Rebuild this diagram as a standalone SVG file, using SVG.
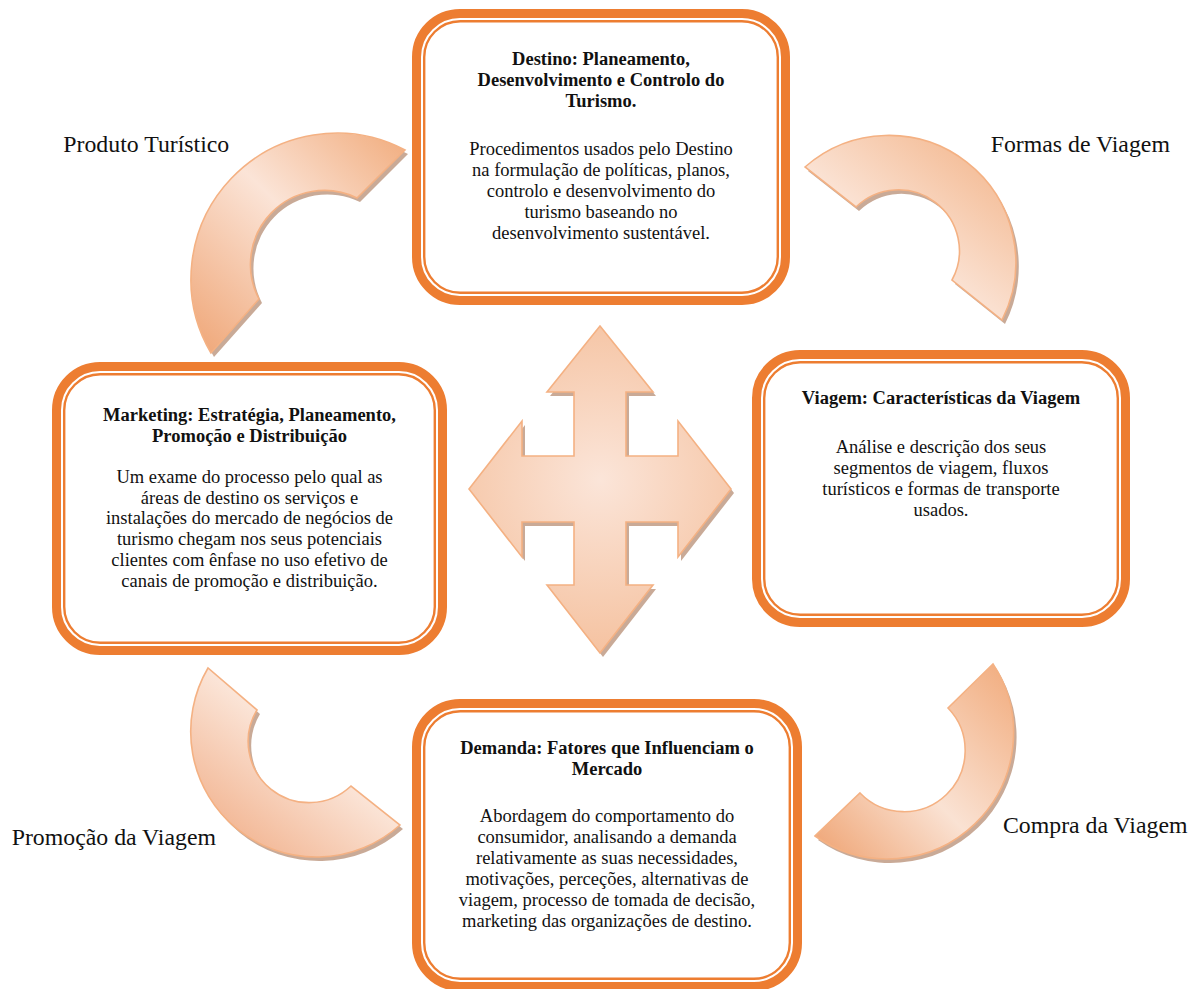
<svg xmlns="http://www.w3.org/2000/svg" width="1198" height="989" viewBox="0 0 1198 989">
<style>
.bg{fill:#ffffff}
.band{fill:none;stroke:#ed7d31;stroke-width:9}
.thin{fill:none;stroke:#ed7d31;stroke-width:2.4}
.fillw{fill:#ffffff}
.arc{stroke:#f4b183;stroke-width:1.6;stroke-linejoin:miter}
.shadow{fill:#bf9b85;opacity:0.85}
.t{font-family:"Liberation Serif","Times New Roman",serif;font-size:18.5px;fill:#111111;text-anchor:middle}
.b{font-weight:bold}
.lbl{font-family:"Liberation Serif","Times New Roman",serif;font-size:23.8px;fill:#111111}
</style>
<defs>
<linearGradient id="gTL" gradientUnits="userSpaceOnUse" x1="211" y1="353" x2="405" y2="150">
<stop offset="0" stop-color="#f0aa7d"/><stop offset="0.55" stop-color="#fbe4d7"/><stop offset="1" stop-color="#f2b185"/>
</linearGradient>
<linearGradient id="gTR" gradientUnits="userSpaceOnUse" x1="975" y1="150" x2="895" y2="250">
<stop offset="0" stop-color="#f4bc96"/><stop offset="1" stop-color="#fbe5d8"/>
</linearGradient>
<linearGradient id="gBR" gradientUnits="userSpaceOnUse" x1="993" y1="664" x2="815" y2="836">
<stop offset="0" stop-color="#f2b084"/><stop offset="0.55" stop-color="#fae2d3"/><stop offset="1" stop-color="#f0aa7d"/>
</linearGradient>
<linearGradient id="gBL" gradientUnits="userSpaceOnUse" x1="230" y1="840" x2="304" y2="746">
<stop offset="0" stop-color="#f2b592"/><stop offset="1" stop-color="#fbe5d8"/>
</linearGradient>
<radialGradient id="gX" gradientUnits="userSpaceOnUse" cx="600" cy="480" r="175">
<stop offset="0" stop-color="#fbe5d9"/><stop offset="1" stop-color="#f5c2a0"/>
</radialGradient>
</defs>
<rect class="bg" x="0" y="0" width="1198" height="989"/>

<g id="connectors">
  <g id="arc-produto">
    <path class="shadow" transform="translate(3,4)" d="M405,150 A146,146 0 0 0 211,353 L259,299 A74,74 0 0 1 357,198 Z"/>
    <path class="arc" fill="url(#gTL)" d="M405,150 A146,146 0 0 0 211,353 L259,299 A74,74 0 0 1 357,198 Z"/>
  </g>
  <g id="arc-formas">
    <path class="shadow" transform="translate(3,4)" d="M805,167 A127,127 0 0 1 1002,320 L952,280 A61,61 0 0 0 856,207 Z"/>
    <path class="arc" fill="url(#gTR)" d="M805,167 A127,127 0 0 1 1002,320 L952,280 A61,61 0 0 0 856,207 Z"/>
  </g>
  <g id="arc-compra">
    <path class="shadow" transform="translate(3,4)" d="M993,664 A126,126 0 0 1 815,836 L860,793 A61,61 0 0 0 948,708 Z"/>
    <path class="arc" fill="url(#gBR)" d="M993,664 A126,126 0 0 1 815,836 L860,793 A61,61 0 0 0 948,708 Z"/>
  </g>
  <g id="arc-promocao">
    <path class="shadow" transform="translate(3,4)" d="M208,668 A125.5,125.5 0 0 0 400,825 L351,786 A61,61 0 0 1 257,710 Z"/>
    <path class="arc" fill="url(#gBL)" d="M208,668 A125.5,125.5 0 0 0 400,825 L351,786 A61,61 0 0 1 257,710 Z"/>
  </g>
  <g id="center-arrow">
    <path class="shadow" transform="translate(3,4)" d="M600,326 L653,392 L626,392 L626,456 L678,456 L678,421 L731,489 L678,557 L678,522 L626,522 L626,585 L653,585 L600,653 L547,585 L574,585 L574,522 L522,522 L522,557 L469,489 L522,421 L522,456 L574,456 L574,392 L547,392 Z"/>
    <path class="arc" fill="url(#gX)" d="M600,326 L653,392 L626,392 L626,456 L678,456 L678,421 L731,489 L678,557 L678,522 L626,522 L626,585 L653,585 L600,653 L547,585 L574,585 L574,522 L522,522 L522,557 L469,489 L522,421 L522,456 L574,456 L574,392 L547,392 Z"/>
  </g>
</g>

<g id="node-destino">
  <rect class="fillw" x="412" y="9" width="378" height="296" rx="48"/>
  <rect class="band" x="416.5" y="13.5" width="369" height="287" rx="43.5"/>
  <rect class="thin" x="424.2" y="21.2" width="353.6" height="271.6" rx="36"/>
  <text class="t b" x="601" y="65">Destino: Planeamento,</text>
  <text class="t b" x="601" y="86">Desenvolvimento e Controlo do</text>
  <text class="t b" x="601" y="106.7">Turismo.</text>
  <text class="t" x="601" y="155">Procedimentos usados pelo Destino</text>
  <text class="t" x="601" y="176">na formulação de políticas, planos,</text>
  <text class="t" x="601" y="196.7">controlo e desenvolvimento do</text>
  <text class="t" x="601" y="217.5">turismo baseando no</text>
  <text class="t" x="601" y="238.5">desenvolvimento sustentável.</text>
</g>

<g id="node-marketing">
  <rect class="fillw" x="52" y="362" width="395" height="293" rx="48"/>
  <rect class="band" x="56.5" y="366.5" width="386" height="284" rx="43.5"/>
  <rect class="thin" x="64.2" y="374.2" width="370.6" height="268.6" rx="36"/>
  <text class="t b" x="249.5" y="421">Marketing: Estratégia, Planeamento,</text>
  <text class="t b" x="249.5" y="441.5">Promoção e Distribuição</text>
  <text class="t" x="249.5" y="482.7">Um exame do processo pelo qual as</text>
  <text class="t" x="249.5" y="503.5">áreas de destino os serviços e</text>
  <text class="t" x="249.5" y="524.3">instalações do mercado de negócios de</text>
  <text class="t" x="249.5" y="545">turismo chegam nos seus potenciais</text>
  <text class="t" x="249.5" y="566">clientes com ênfase no uso efetivo de</text>
  <text class="t" x="249.5" y="587">canais de promoção e distribuição.</text>
</g>

<g id="node-viagem">
  <rect class="fillw" x="752" y="350" width="378" height="277" rx="48"/>
  <rect class="band" x="756.5" y="354.5" width="369" height="268" rx="43.5"/>
  <rect class="thin" x="764.2" y="362.2" width="353.6" height="252.6" rx="36"/>
  <text class="t b" x="941" y="404">Viagem: Características da Viagem</text>
  <text class="t" x="941" y="453.3">Análise e descrição dos seus</text>
  <text class="t" x="941" y="474">segmentos de viagem, fluxos</text>
  <text class="t" x="941" y="495">turísticos e formas de transporte</text>
  <text class="t" x="941" y="516">usados.</text>
</g>

<g id="node-demanda">
  <rect class="fillw" x="412" y="699" width="390" height="292" rx="48"/>
  <rect class="band" x="416.5" y="703.5" width="381" height="283" rx="43.5"/>
  <rect class="thin" x="424.2" y="711.2" width="365.6" height="267.6" rx="36"/>
  <text class="t b" x="607" y="754">Demanda: Fatores que Influenciam o</text>
  <text class="t b" x="607" y="774.5">Mercado</text>
  <text class="t" x="607" y="821.5">Abordagem do comportamento do</text>
  <text class="t" x="607" y="842.5">consumidor, analisando a demanda</text>
  <text class="t" x="607" y="863.5">relativamente as suas necessidades,</text>
  <text class="t" x="607" y="884.5">motivações, perceções, alternativas de</text>
  <text class="t" x="607" y="905.5">viagem, processo de tomada de decisão,</text>
  <text class="t" x="607" y="926.5">marketing das organizações de destino.</text>
</g>

<g id="labels">
  <text class="lbl" x="63.3" y="152.3">Produto Turístico</text>
  <text class="lbl" x="990.7" y="151.7">Formas de Viagem</text>
  <text class="lbl" x="11.7" y="845">Promoção da Viagem</text>
  <text class="lbl" x="1003" y="832.5">Compra da Viagem</text>
</g>
</svg>
